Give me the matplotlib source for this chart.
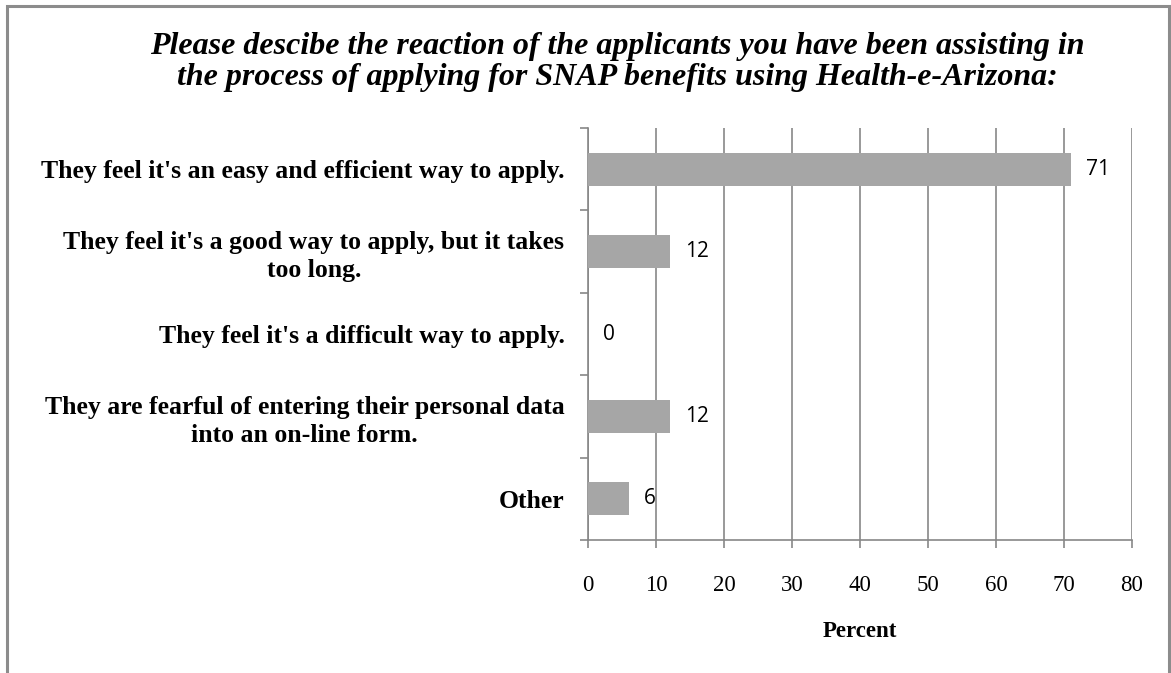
import matplotlib
matplotlib.use("Agg")
import matplotlib.pyplot as plt
from matplotlib.patches import Rectangle
import numpy as np

# Survey responses (percent)
categories = [
    "They feel it's an easy and efficient way to apply.",
    "They feel it's a good way to apply, but it takes\ntoo long.",
    "They feel it's a difficult way to apply.",
    "They are fearful of entering their personal data\ninto an on-line form.",
    "Other",
]
percent = [71, 12, 0, 12, 6]
x_ticks = [0, 10, 20, 30, 40, 50, 60, 70, 80]

title = ("Please descibe the reaction of the applicants you have been assisting in\n"
         "the process of applying for SNAP benefits using Health-e-Arizona:")

SERIF = ["Liberation Serif", "DejaVu Serif"]
SANS = ["Open Sans", "DejaVu Sans"]
GRID = "#878787"
BAR = "#a6a6a6"

W, H = 1171, 673
fig = plt.figure(figsize=(W / 100, H / 100), dpi=100)

# outer chart frame (bottom edge runs off the image)
fig.patches.append(Rectangle((7 / W, -0.05), (1169 - 7) / W, 1.05 - 6 / H,
                             transform=fig.transFigure, fill=False,
                             edgecolor="#8c8c8c", linewidth=2.2))

ax = fig.add_axes([588 / W, 1 - 540 / H, (1132 - 588) / W, (540 - 128) / H])

y = np.arange(len(categories))
ax.barh(y, percent, height=0.4, color=BAR, zorder=3)

for yi, v in zip(y, percent):
    ax.annotate(str(v), (v, yi), xytext=(11, 0), textcoords="offset points",
                va="center", ha="left", fontsize=15, family=SANS, color="black")

ax.set_xlim(0, 80)
ax.set_ylim(len(categories) - 0.5, -0.5)
ax.set_xticks(x_ticks)
ax.set_xticklabels([str(t) for t in x_ticks], family=SERIF, fontsize=16.5)
ax.xaxis.grid(True, color=GRID, linewidth=1.2, zorder=0)

ax.set_yticks(y)
ax.set_yticklabels(categories, family=SERIF, fontsize=18.5, fontweight="bold",
                   multialignment="center", linespacing=1.3)
ax.set_yticks(np.arange(-0.5, len(categories)), minor=True)
ax.tick_params(axis="y", which="major", length=0, pad=17)
ax.tick_params(axis="y", which="minor", length=6, width=1.2, color=GRID)
ax.tick_params(axis="x", length=6, width=1.2, color=GRID, pad=19)

for side in ["top", "right"]:
    ax.spines[side].set_visible(False)
for side in ["left", "bottom"]:
    ax.spines[side].set_color(GRID)
    ax.spines[side].set_linewidth(1.2)

ax.set_xlabel("Percent", family=SERIF, fontsize=16.5, fontweight="bold", labelpad=18)

fig.text(617 / W, 1 - 62 / H, title, ha="center", va="center", family=SERIF,
         fontsize=23, fontstyle="italic", fontweight="bold", linespacing=1.08)

fig.savefig("out.png", dpi=100)
